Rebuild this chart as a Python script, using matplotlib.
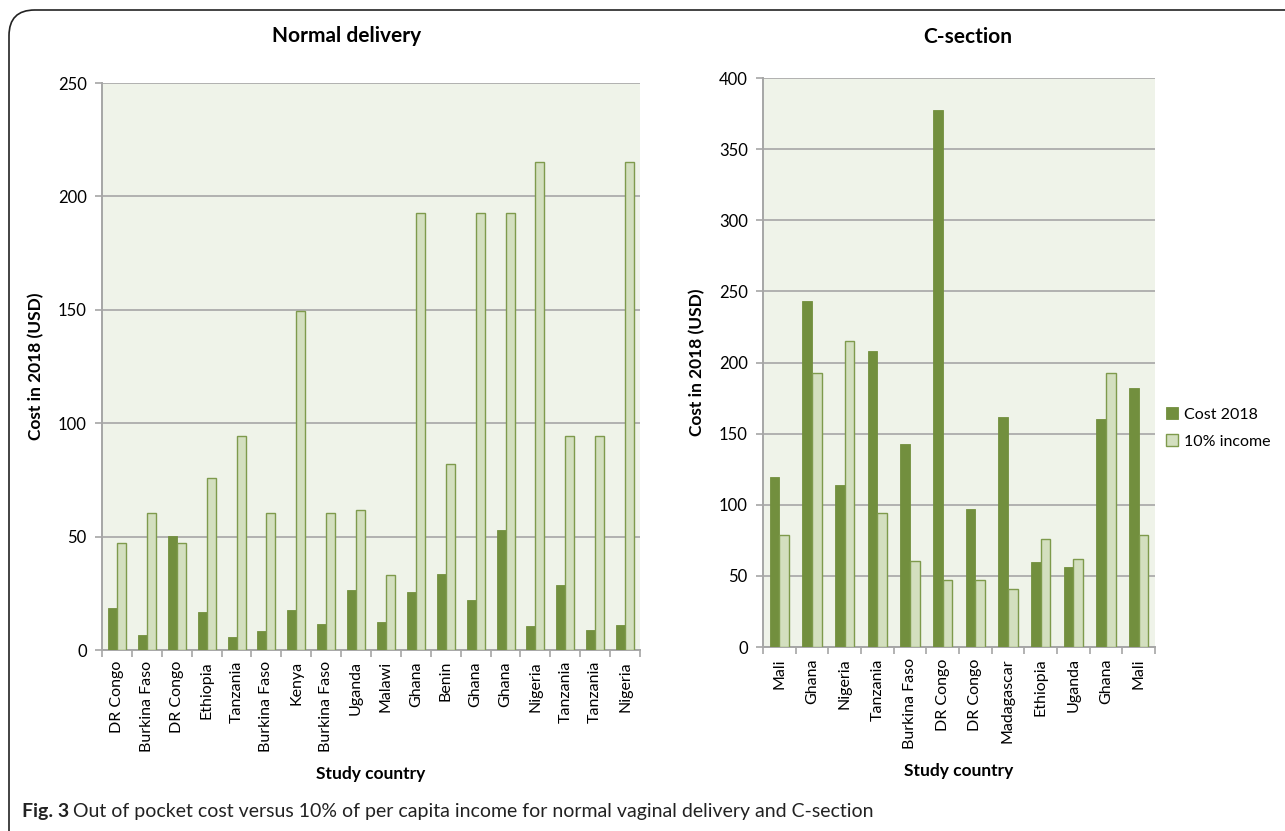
import numpy as np
import matplotlib.pyplot as plt
from matplotlib.patches import FancyBboxPatch

plt.rcParams['font.family'] = ['Lato', 'DejaVu Sans']

# normal delivery
nd_countries = ["DR Congo", "Burkina Faso", "DR Congo", "Ethiopia", "Tanzania", "Burkina Faso",
                "Kenya", "Burkina Faso", "Uganda", "Malawi", "Ghana", "Benin", "Ghana", "Ghana",
                "Nigeria", "Tanzania", "Tanzania", "Nigeria"]
nd_cost = [18.6, 6.5, 50.3, 16.9, 5.7, 8.4, 17.8, 11.6, 26.3, 12.2, 25.7, 33.6, 22.0, 52.8,
           10.6, 28.7, 8.8, 10.9]
nd_income = [47, 60.4, 47, 75.8, 94.2, 60.4, 149.5, 60.4, 61.6, 32.9, 192.7, 82, 192.7, 192.7,
             215, 94.2, 94.2, 215]

# C-section
cs_countries = ["Mali", "Ghana", "Nigeria", "Tanzania", "Burkina Faso", "DR Congo", "DR Congo",
                "Madagascar", "Ethiopia", "Uganda", "Ghana", "Mali"]
cs_cost = [119.4, 243, 114.2, 208, 142.9, 377.6, 96.7, 162, 59.7, 56.5, 160.3, 182]
cs_income = [78.6, 192.6, 215.3, 94, 60.2, 47, 47, 40.8, 75.6, 62, 192.7, 78.6]

dark = '#728f3e'
light = '#d3dfbf'
edge = '#7e9a4c'
bg = '#eff3e9'
grid = '#a6a6a6'

fig = plt.figure(figsize=(12.85, 8.31), dpi=100)

# rounded frame
frame = FancyBboxPatch((9 / 1285, -0.05), 1.1, 1 - 10 / 831 + 0.05,
                       boxstyle="round,pad=0,rounding_size=0.02",
                       transform=fig.transFigure, fill=False, edgecolor='#222222',
                       linewidth=1.2, mutation_aspect=1285 / 831)
fig.patches.append(frame)


def draw(ax, countries, cost, income, ymax, step, title, title_x, title_y):
    x = np.arange(len(countries))
    w = 0.3
    ax.set_facecolor(bg)
    ax.bar(x - w / 2, cost, width=w, color=dark, edgecolor=dark, linewidth=0.6,
           label='Cost 2018', zorder=3)
    ax.bar(x + w / 2, income, width=w, color=light, edgecolor=edge, linewidth=1.0,
           label='10% income', zorder=3)
    ax.set_xlim(-0.5, len(countries) - 0.5)
    ax.set_ylim(0, ymax)
    ax.set_yticks(np.arange(0, ymax + 1, step))
    ax.yaxis.grid(True, color=grid, linewidth=1.2, zorder=0)
    ax.set_axisbelow(True)
    ax.set_xticks(x)
    ax.set_xticklabels(countries, rotation=90, fontsize=11.5)
    ax.set_xticks(np.arange(-0.5, len(countries), 1), minor=True)
    ax.tick_params(axis='x', which='major', length=0, pad=8)
    ax.tick_params(axis='x', which='minor', length=5, color=grid, width=1.2)
    ax.tick_params(axis='y', length=5, color=grid, width=1.2, labelsize=12, pad=6)
    for s in ['top', 'right']:
        ax.spines[s].set_visible(False)
    for s in ['left', 'bottom']:
        ax.spines[s].set_color(grid)
        ax.spines[s].set_linewidth(1.4)
    ax.set_ylabel('Cost in 2018 (USD)', fontsize=12.5, fontweight='bold', labelpad=10)
    ax.set_xlabel('Study country', fontsize=12.5, fontweight='bold', labelpad=10)
    fig.text(title_x, title_y, title, ha='center', va='center', fontsize=15,
             fontweight='bold')


ax1 = fig.add_axes([0.0794, 0.2178, 0.4187, 0.6823])
draw(ax1, nd_countries, nd_cost, nd_income, 250, 50, 'Normal delivery',
     347 / 1285, 1 - 36 / 831)

ax2 = fig.add_axes([0.5938, 0.2214, 0.305, 0.6847])
draw(ax2, cs_countries, cs_cost, cs_income, 400, 50, 'C-section',
     968 / 1285, 1 - 37 / 831)
ax2.legend(loc='center left', bbox_to_anchor=(1.0, 0.385), frameon=False, fontsize=11.5,
           handlelength=0.75, handleheight=0.75, handletextpad=0.35, labelspacing=0.8,
           borderaxespad=0.3)

fig.text(22 / 1285, 1 - 812 / 831, 'Fig. 3', fontsize=14, fontweight='bold',
         va='center', color='#222222')
fig.text(73 / 1285, 1 - 812 / 831,
         'Out of pocket cost versus 10% of per capita income for normal vaginal delivery and C-section',
         fontsize=14, va='center', color='#222222')

plt.savefig('out.png', dpi=100)
